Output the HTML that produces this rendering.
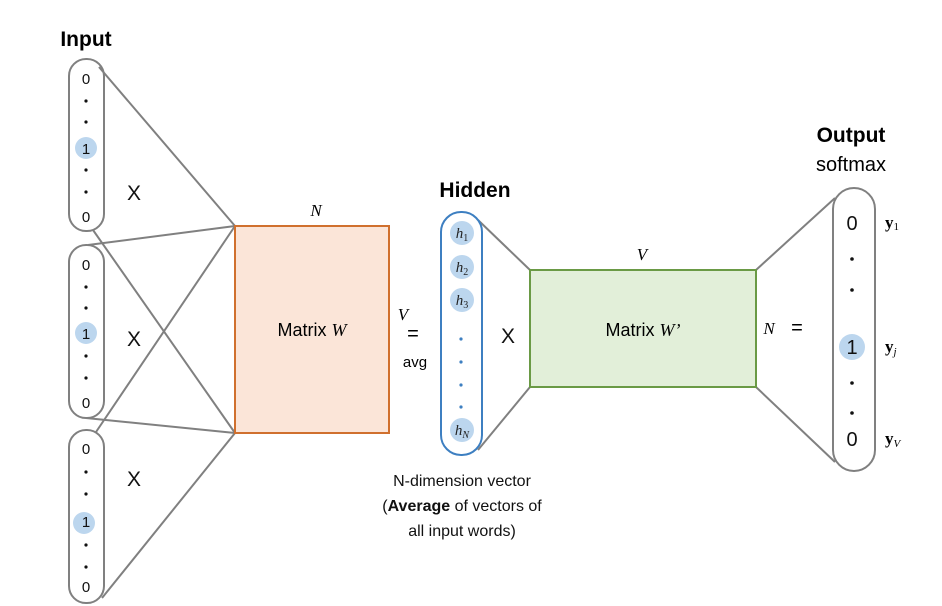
<!DOCTYPE html>
<html><head><style>
html,body{margin:0;padding:0;background:#fff;}
svg{display:block;font-family:"Liberation Sans",sans-serif;}
.m{font-family:"Liberation Serif",serif;font-style:italic;}
</style></head><body>
<svg width="942" height="606" viewBox="0 0 942 606">
<g stroke="#808080" stroke-width="2" fill="none">
<rect x="69" y="59" width="35" height="172" rx="17"/>
<rect x="69" y="245" width="35" height="173" rx="17"/>
<rect x="69" y="430" width="35" height="173" rx="17"/>
<line x1="99" y1="67" x2="235" y2="226"/>
<line x1="93" y1="230" x2="235" y2="433"/>
<line x1="88" y1="245" x2="235" y2="226"/>
<line x1="86" y1="418" x2="235" y2="433"/>
<line x1="96" y1="432" x2="235" y2="226"/>
<line x1="102" y1="598" x2="235" y2="433"/>
<line x1="478" y1="220" x2="530" y2="270"/>
<line x1="478" y1="450" x2="530" y2="387"/>
<line x1="756" y1="270" x2="835" y2="198"/>
<line x1="756" y1="387" x2="835" y2="462"/>
<rect x="833" y="188" width="42" height="283" rx="21"/>
</g>
<rect x="235" y="226" width="154" height="207" fill="#fbe5d8" stroke="#d0702e" stroke-width="2"/>
<rect x="530" y="270" width="226" height="117" fill="#e2efd9" stroke="#6a9a45" stroke-width="2"/>
<rect x="441" y="212" width="41" height="243" rx="20" fill="#fff" stroke="#3d7fc1" stroke-width="2"/>
<g fill="#bcd6ee">
<circle cx="86" cy="148" r="11"/><circle cx="86" cy="333" r="11"/><circle cx="84" cy="523" r="11"/>
<circle cx="462" cy="233" r="12"/><circle cx="462" cy="267" r="12"/><circle cx="462" cy="300" r="12"/><circle cx="462" cy="430" r="12"/>
<circle cx="852" cy="347" r="13"/>
</g>
<g font-size="15" text-anchor="middle" fill="#111">
<text x="86" y="84">0</text><text x="86" y="222">0</text><text x="86" y="154">1</text>
<text x="86" y="270">0</text><text x="86" y="339">1</text><text x="86" y="408">0</text>
<text x="86" y="454">0</text><text x="86" y="527">1</text><text x="86" y="592">0</text>
</g>
<g fill="#111">
<circle cx="86" cy="101" r="1.6"/><circle cx="86" cy="122" r="1.6"/><circle cx="86" cy="170" r="1.6"/><circle cx="86" cy="192" r="1.6"/>
<circle cx="86" cy="287" r="1.6"/><circle cx="86" cy="308" r="1.6"/><circle cx="86" cy="356" r="1.6"/><circle cx="86" cy="378" r="1.6"/>
<circle cx="86" cy="472" r="1.6"/><circle cx="86" cy="494" r="1.6"/><circle cx="86" cy="545" r="1.6"/><circle cx="86" cy="567" r="1.6"/>
<circle cx="852" cy="259" r="1.8"/><circle cx="852" cy="290" r="1.8"/><circle cx="852" cy="383" r="1.8"/><circle cx="852" cy="413" r="1.8"/>
</g>
<g font-size="21" text-anchor="middle" fill="#111">
<text x="134" y="200">X</text><text x="134" y="346">X</text><text x="134" y="486">X</text><text x="508" y="343">X</text>
</g>
<text x="86" y="46" font-size="21" font-weight="bold" text-anchor="middle">Input</text>
<text x="475" y="197" font-size="21" font-weight="bold" text-anchor="middle">Hidden</text>
<text x="851" y="142" font-size="21" font-weight="bold" text-anchor="middle">Output</text>
<text x="851" y="171" font-size="20" text-anchor="middle">softmax</text>
<text x="312" y="336" font-size="18" text-anchor="middle">Matrix <tspan class="m">W</tspan></text>
<text x="643" y="336" font-size="18" text-anchor="middle">Matrix <tspan class="m">W’</tspan></text>
<text x="316" y="216" font-size="17" class="m" text-anchor="middle">N</text>
<text x="642" y="260" font-size="17" class="m" text-anchor="middle">V</text>
<text x="403" y="320" font-size="17" class="m" text-anchor="middle">V</text>
<text x="413" y="340" font-size="20" text-anchor="middle">=</text>
<text x="415" y="367" font-size="15" text-anchor="middle">avg</text>
<text x="769" y="334" font-size="17" class="m" text-anchor="middle">N</text>
<text x="797" y="334" font-size="20" text-anchor="middle">=</text>
<g class="m" font-size="15" text-anchor="middle" fill="#222">
<text x="462" y="238">h<tspan font-size="10" dy="3" font-style="normal">1</tspan></text>
<text x="462" y="272">h<tspan font-size="10" dy="3" font-style="normal">2</tspan></text>
<text x="462" y="305">h<tspan font-size="10" dy="3" font-style="normal">3</tspan></text>
<text x="462" y="435">h<tspan font-size="10" dy="3">N</tspan></text>
</g>
<g fill="#3d7fc1"><circle cx="461" cy="339" r="1.6"/><circle cx="461" cy="362" r="1.6"/><circle cx="461" cy="385" r="1.6"/><circle cx="461" cy="407" r="1.6"/></g>
<g font-size="20" text-anchor="middle" fill="#111">
<text x="852" y="230">0</text><text x="852" y="354">1</text><text x="852" y="446">0</text>
</g>
<g font-family="Liberation Serif,serif" font-weight="bold" font-size="17">
<text x="885" y="228">y<tspan font-size="11" font-weight="normal" dy="2">1</tspan></text>
<text x="885" y="352">y<tspan font-size="11" font-weight="normal" font-style="italic" dy="3">j</tspan></text>
<text x="885" y="444">y<tspan font-size="11" font-weight="normal" font-style="italic" dy="3">V</tspan></text>
</g>
<g font-size="16" text-anchor="middle" fill="#111">
<text x="462" y="486">N-dimension vector</text>
<text x="462" y="511">(<tspan font-weight="bold">Average</tspan> of vectors of</text>
<text x="462" y="536">all input words)</text>
</g>
</svg>
</body></html>
